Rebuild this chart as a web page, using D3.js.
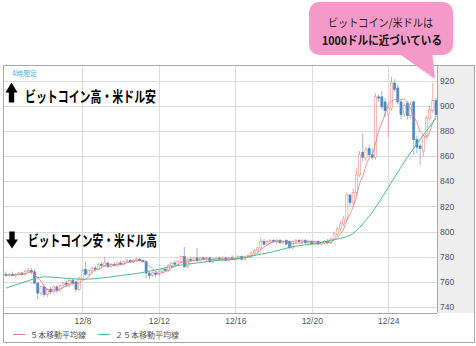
<!DOCTYPE html>
<html><head><meta charset="utf-8">
<script src="https://cdn.jsdelivr.net/npm/d3@7"></script>
<style>html,body{margin:0;padding:0;background:#fff;}svg{display:block;}</style>
</head><body>
<script>
// ---- data (4-hour candles, BTC/USD) ----
const opens  = [766,765,766,765,766,767,766,768,769,768,759,751,756,750,754,752,756,753,757,759,758,761,760,754,763,770,766,769,771,770,774,773,775,772,774,773,775,774,776,777,776,777,778,777,776,767,765,767,766,768,770,769,773,775,774,776,780,772,778,777,779,777,779,778,779,776,778,779,778,779,777,779,778,779,780,778,780,781,783,785,787,792,790,792,793,792,793,791,793,792,787,792,793,792,793,791,792,790,792,790,791,792,791,794,798,802,806,810,829,823,831,845,863,859,866,861,859,907,907,903,893,898,918,914,903,893,902,892,903,873,868,864,876,890,896,904];
const highs  = [768,767,768,767,768,768,770,771,771,770,760,757,757,755,756,757,757,758,760,761,762,763,761,764,770,776,770,772,773,775,776,780,776,775,776,776,777,777,778,778,778,779,779,778,777,768,768,769,769,771,772,774,776,777,777,781,788,779,780,780,787,780,780,780,780,779,780,780,780,780,780,781,780,781,781,781,782,784,786,788,795,794,793,794,794,794,794,793,794,793,793,794,794,794,794,793,793,793,793,792,793,794,795,800,804,808,812,831,830,834,850,864,878,867,869,866,910,909,912,906,900,923,921,917,905,902,904,903,904,876,870,877,892,900,918,906];
const lows   = [764,764,764,764,765,765,765,767,766,758,746,749,748,748,750,751,751,752,755,756,756,757,752,753,762,765,765,767,768,769,771,772,771,771,772,772,773,773,775,775,775,776,776,775,763,762,764,764,765,767,768,768,771,772,773,775,771,771,776,776,776,776,777,776,775,775,777,777,776,776,776,777,777,777,777,777,779,779,781,783,785,789,789,790,791,790,790,790,789,786,786,790,791,790,790,790,789,789,789,789,790,790,790,793,796,800,804,809,820,820,829,843,856,856,859,857,857,903,897,891,875,896,911,901,889,891,889,890,861,862,853,860,874,888,894,891];
const closes = [765,766,765,766,767,766,768,769,768,759,751,756,750,754,752,756,753,757,759,758,761,759,754,763,769,766,769,771,770,774,773,775,772,774,773,775,774,776,777,776,777,778,777,776,767,765,767,766,768,770,769,773,775,774,776,780,772,778,777,779,777,779,778,779,776,778,779,778,779,777,779,778,779,780,778,780,781,783,785,787,792,790,792,793,792,793,791,792,790,787,792,793,792,793,791,792,790,792,790,791,792,791,794,798,802,806,810,829,823,831,845,861,859,865,861,859,907,906,899,896,898,918,913,903,893,900,892,901,873,867,866,876,890,897,904,893];
// 25-period moving average at selected candles
const ma25Index  = [0,6,12,18,24,30,36,42,48,54,60,66,72,78,84,90,96,102,108,114,120,126,132,135];
const ma25Values = [755,760,764,763,762,763,765,767,770,773,775,777,778,781,784,788,790,793,797,812,835,859,880,890];
const xTickIndex  = [24,48,72,96,120];
const xTickLabels = ["12/8","12/12","12/16","12/20","12/24"];
const yTicks = [740,760,780,800,820,840,860,880,900,920];

// ---- layout ----
const W = 476, H = 346;
const L = 4, R = 437, T = 66, B = 313;
const upColor = "#e8907e", downColor = "#4f88c4", downWick = "#78a8da";
const ma5Color = "#dc7a7a", ma25Color = "#4cbf86";
const jp = '"Noto Sans CJK JP", sans-serif';

const svg = d3.select("body").append("svg").attr("width", W).attr("height", H);

const x = d3.scaleLinear().domain([-0.6, 135.3]).range([L, R]);
const y = d3.scaleLinear().domain([740, 920]).range([307, 80.5]);

// outer frame
svg.append("rect").attr("x", 3.5).attr("y", 65.5).attr("width", 471).attr("height", 277)
  .attr("fill", "#fff").attr("stroke", "#a8a8a8");
// y-axis panel
svg.append("rect").attr("x", R).attr("y", 66).attr("width", 37).attr("height", B - 66)
  .attr("fill", "#eeeeee");

// grid
const grid = svg.append("g");
grid.selectAll("line.h").data(yTicks).join("line")
  .attr("x1", L).attr("x2", R).attr("y1", d => Math.round(y(d)) + 0.5).attr("y2", d => Math.round(y(d)) + 0.5)
  .attr("stroke", "#dcdcdc");
grid.selectAll("line.v").data(xTickIndex).join("line")
  .attr("x1", d => Math.round(x(d)) + 0.5).attr("x2", d => Math.round(x(d)) + 0.5)
  .attr("y1", T).attr("y2", B).attr("stroke", "#dcdcdc");

// borders
svg.append("line").attr("x1", 3).attr("x2", R).attr("y1", B + 0.5).attr("y2", B + 0.5).attr("stroke", "#a8a8a8");
svg.append("line").attr("x1", R + 0.5).attr("x2", R + 0.5).attr("y1", 65).attr("y2", B).attr("stroke", "#a8a8a8");

// axes (labels only)
const yAxis = d3.axisRight(y).tickValues(yTicks).tickSize(0).tickPadding(3);
svg.append("g").attr("transform", `translate(${R},0)`).call(yAxis)
  .call(g => g.select(".domain").remove())
  .call(g => g.selectAll("text").attr("fill", "#555").attr("font-size", "8.5px")
    .attr("font-family", '"Liberation Sans", Arial, sans-serif'));
const xAxis = d3.axisBottom(x).tickValues(xTickIndex).tickFormat((d, i) => xTickLabels[i]).tickSize(0).tickPadding(5);
svg.append("g").attr("transform", `translate(0,${B})`).call(xAxis)
  .call(g => g.select(".domain").remove())
  .call(g => g.selectAll("text").attr("fill", "#555").attr("font-size", "8.5px")
    .attr("font-family", '"Liberation Sans", Arial, sans-serif'));

// candles
const candles = closes.map((c, i) => ({i, o: opens[i], h: highs[i], l: lows[i], c}));
const cg = svg.append("g");
cg.selectAll("line.w").data(candles).join("line")
  .attr("x1", d => x(d.i)).attr("x2", d => x(d.i))
  .attr("y1", d => y(d.h)).attr("y2", d => y(d.l))
  .attr("stroke", d => d.c >= d.o ? upColor : downWick).attr("stroke-width", 0.8);
const bw = 2.1;
cg.selectAll("rect.b").data(candles).join("rect")
  .attr("x", d => x(d.i) - bw / 2)
  .attr("y", d => y(Math.max(d.o, d.c)))
  .attr("width", bw)
  .attr("height", d => Math.max(0.8, Math.abs(y(d.o) - y(d.c))))
  .attr("fill", d => d.c >= d.o ? "#fff" : downColor)
  .attr("stroke", d => d.c >= d.o ? upColor : downColor)
  .attr("stroke-width", 0.6);

// moving averages
const ma5 = closes.map((c, i) => {
  const w = closes.slice(Math.max(0, i - 4), i + 1);
  return {i, v: d3.mean(w)};
});
svg.append("path").datum(ma5)
  .attr("d", d3.line().x(d => x(d.i)).y(d => y(d.v)).curve(d3.curveMonotoneX))
  .attr("fill", "none").attr("stroke", ma5Color).attr("stroke-width", 0.8);
svg.append("path").datum(ma25Index.map((k, j) => ({i: k, v: ma25Values[j]})))
  .attr("d", d3.line().x(d => x(d.i)).y(d => y(d.v)).curve(d3.curveMonotoneX))
  .attr("fill", "none").attr("stroke", ma25Color).attr("stroke-width", 1);

// "4時間足"
svg.append("text").attr("x", 12).attr("y", 75.5).text("4時間足")
  .attr("font-family", jp).attr("font-size", "7px").attr("fill", "#48b6e6");

// arrows + annotations
svg.append("path").attr("d", "M5.5,92.5 L11.5,82.5 L17.5,92.5 L14.2,92.5 L14.2,102.5 L8.8,102.5 L8.8,92.5 Z").attr("fill", "#000");
svg.append("text").attr("x", 25).attr("y", 95).attr("dominant-baseline", "central")
  .attr("textLength", 131).attr("lengthAdjust", "spacingAndGlyphs")
  .attr("font-family", jp).attr("font-weight", "bold").attr("font-size", "15px").attr("fill", "#000")
  .text("ビットコイン高・米ドル安");
svg.append("path").attr("d", "M9.3,231.5 L14.7,231.5 L14.7,239.5 L18,239.5 L12,248.5 L6,239.5 L9.3,239.5 Z").attr("fill", "#000");
svg.append("text").attr("x", 28).attr("y", 239).attr("dominant-baseline", "central")
  .attr("textLength", 129).attr("lengthAdjust", "spacingAndGlyphs")
  .attr("font-family", jp).attr("font-weight", "bold").attr("font-size", "15px").attr("fill", "#000")
  .text("ビットコイン安・米ドル高");

// speech bubble
const bub = "#f59ac8";
svg.append("rect").attr("x", 309).attr("y", 2).attr("width", 144).attr("height", 53).attr("rx", 10)
  .attr("fill", bub);
svg.append("path").attr("d", "M398,53 L432,50 L435,79 Z").attr("fill", bub);
svg.append("text").attr("x", 328).attr("y", 22).attr("dominant-baseline", "central")
  .attr("textLength", 105).attr("lengthAdjust", "spacingAndGlyphs")
  .attr("font-family", jp).attr("font-size", "11px").attr("fill", "#222")
  .text("ビットコイン/米ドルは");
svg.append("text").attr("x", 322).attr("y", 39.5).attr("dominant-baseline", "central")
  .attr("textLength", 120).attr("lengthAdjust", "spacingAndGlyphs")
  .attr("font-family", jp).attr("font-weight", "bold").attr("font-size", "12px").attr("fill", "#111")
  .text("1000ドルに近づいている");

// legend
const lg = svg.append("g").attr("font-family", jp).attr("font-size", "8px").attr("fill", "#555");
lg.append("line").attr("x1", 13).attr("x2", 25).attr("y1", 334.5).attr("y2", 334.5).attr("stroke", ma5Color);
lg.append("text").attr("x", 30).attr("y", 334.5).attr("dominant-baseline", "central").text("５本移動平均線");
lg.append("line").attr("x1", 98).attr("x2", 110).attr("y1", 334.5).attr("y2", 334.5).attr("stroke", ma25Color);
lg.append("text").attr("x", 115).attr("y", 334.5).attr("dominant-baseline", "central").text("２５本移動平均線");
</script>
</body></html>
